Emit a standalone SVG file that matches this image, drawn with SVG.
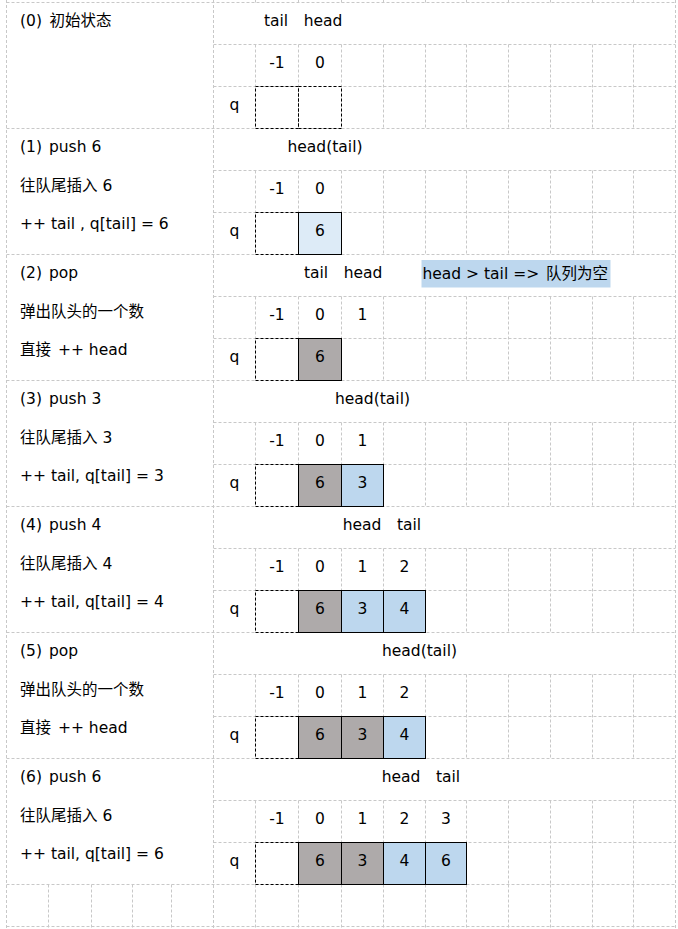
<svg xmlns="http://www.w3.org/2000/svg" width="678" height="929" viewBox="0 0 678 929">
<style>
.g{fill:none;stroke:#c8c8c8;stroke-width:1;stroke-dasharray:3,2}
.t{font-family:"DejaVu Sans","Noto Sans CJK SC",sans-serif;font-size:15.5px;fill:#000}
.m{text-anchor:middle}
.d{fill:none;stroke:#000;stroke-width:1;stroke-dasharray:3,2}
.gr{fill:#aeaaaa;stroke:#000;stroke-width:1}
.bl{fill:#bdd7ee;stroke:#000;stroke-width:1}
.lb{fill:#ddebf7;stroke:#000;stroke-width:1}
</style>
<rect width="678" height="929" fill="#fff"/>
<g id="grid">
<path class="g" d="M6.5 2.5H675.5M6.5 128.5H675.5M6.5 254.5H675.5M6.5 380.5H675.5M6.5 506.5H675.5M6.5 632.5H675.5M6.5 758.5H675.5M6.5 884.5H675.5M6.5 926.5H675.5
M213.5 44.5H675.5M213.5 86.5H675.5M213.5 170.5H675.5M213.5 212.5H675.5M213.5 296.5H675.5M213.5 338.5H675.5M213.5 422.5H675.5M213.5 464.5H675.5M213.5 548.5H675.5M213.5 590.5H675.5M213.5 674.5H675.5M213.5 716.5H675.5M213.5 800.5H675.5M213.5 842.5H675.5
M6.5 0V929M213.5 0V929M675.5 0V929
M48.5 884.5V929M91.5 884.5V929M132.5 884.5V929M171.5 884.5V929"/>
<path class="g" d="M255.5 0V2.5M298.5 0V2.5M341.5 0V2.5M383.5 0V2.5M425.5 0V2.5M466.5 0V2.5M508.5 0V2.5M550.5 0V2.5M592.5 0V2.5M633.5 0V2.5
M255.5 884.5V929M298.5 884.5V929M341.5 884.5V929M383.5 884.5V929M425.5 884.5V929M466.5 884.5V929M508.5 884.5V929M550.5 884.5V929M592.5 884.5V929M633.5 884.5V929"/>
<g id="vcols">
<path class="g" d="M255.5 44.5V128.5M298.5 44.5V128.5M341.5 44.5V128.5M383.5 44.5V128.5M425.5 44.5V128.5M466.5 44.5V128.5M508.5 44.5V128.5M550.5 44.5V128.5M592.5 44.5V128.5M633.5 44.5V128.5"/>
<path class="g" transform="translate(0,126)" d="M255.5 44.5V128.5M298.5 44.5V128.5M341.5 44.5V128.5M383.5 44.5V128.5M425.5 44.5V128.5M466.5 44.5V128.5M508.5 44.5V128.5M550.5 44.5V128.5M592.5 44.5V128.5M633.5 44.5V128.5"/>
<path class="g" transform="translate(0,252)" d="M255.5 44.5V128.5M298.5 44.5V128.5M341.5 44.5V128.5M383.5 44.5V128.5M425.5 44.5V128.5M466.5 44.5V128.5M508.5 44.5V128.5M550.5 44.5V128.5M592.5 44.5V128.5M633.5 44.5V128.5"/>
<path class="g" transform="translate(0,378)" d="M255.5 44.5V128.5M298.5 44.5V128.5M341.5 44.5V128.5M383.5 44.5V128.5M425.5 44.5V128.5M466.5 44.5V128.5M508.5 44.5V128.5M550.5 44.5V128.5M592.5 44.5V128.5M633.5 44.5V128.5"/>
<path class="g" transform="translate(0,504)" d="M255.5 44.5V128.5M298.5 44.5V128.5M341.5 44.5V128.5M383.5 44.5V128.5M425.5 44.5V128.5M466.5 44.5V128.5M508.5 44.5V128.5M550.5 44.5V128.5M592.5 44.5V128.5M633.5 44.5V128.5"/>
<path class="g" transform="translate(0,630)" d="M255.5 44.5V128.5M298.5 44.5V128.5M341.5 44.5V128.5M383.5 44.5V128.5M425.5 44.5V128.5M466.5 44.5V128.5M508.5 44.5V128.5M550.5 44.5V128.5M592.5 44.5V128.5M633.5 44.5V128.5"/>
<path class="g" transform="translate(0,756)" d="M255.5 44.5V128.5M298.5 44.5V128.5M341.5 44.5V128.5M383.5 44.5V128.5M425.5 44.5V128.5M466.5 44.5V128.5M508.5 44.5V128.5M550.5 44.5V128.5M592.5 44.5V128.5M633.5 44.5V128.5"/>
</g>
</g>

<g id="step0">
<text class="t" x="20" y="26">(0) <tspan dx="2.5">初始状态</tspan></text>
<text class="t m" x="276" y="26">tail</text>
<text class="t m" x="323" y="26">head</text>
<text class="t m" x="277" y="68">-1</text>
<text class="t m" x="320" y="68">0</text>
<text class="t m" x="234.5" y="110">q</text>
<rect class="d" x="255.5" y="86.5" width="43" height="42"/>
<rect class="d" x="298.5" y="86.5" width="43" height="42"/>
</g>

<g id="step1">
<text class="t" x="20" y="152">(1) <tspan dx="2">push 6</tspan></text>
<text class="t" x="20" y="191">往队尾插入 6</text>
<text class="t" x="20" y="228.5">++ tail , q[tail] = 6</text>
<text class="t m" x="325" y="152">head(tail)</text>
<text class="t m" x="277" y="194">-1</text>
<text class="t m" x="320" y="194">0</text>
<text class="t m" x="234.5" y="236">q</text>
<rect class="d" x="255.5" y="212.5" width="43" height="42"/>
<rect class="lb" x="298.5" y="212.5" width="43" height="42"/>
<text class="t m" x="320" y="236">6</text>
</g>

<g id="step2">
<text class="t" x="20" y="278">(2) <tspan dx="2">pop</tspan></text>
<text class="t" x="20" y="317">弹出队头的一个数</text>
<text class="t" x="20" y="354.5">直接 <tspan dx="2">++ head</tspan></text>
<text class="t m" x="316" y="278">tail</text>
<text class="t m" x="363" y="278">head</text>
<rect x="421.5" y="260" width="189" height="27.5" fill="#bdd7ee"/>
<text class="t" x="422.5" y="279">head &gt; tail =&gt; <tspan dx="2">队列为空</tspan></text>
<text class="t m" x="277" y="320">-1</text>
<text class="t m" x="320" y="320">0</text>
<text class="t m" x="362.5" y="320">1</text>
<text class="t m" x="234.5" y="362">q</text>
<rect class="d" x="255.5" y="338.5" width="43" height="42"/>
<rect class="gr" x="298.5" y="338.5" width="43" height="42"/>
<text class="t m" x="320" y="362">6</text>
</g>

<g id="step3">
<text class="t" x="20" y="404">(3) <tspan dx="2">push 3</tspan></text>
<text class="t" x="20" y="443">往队尾插入 3</text>
<text class="t" x="20" y="480.5">++ tail, q[tail] = 3</text>
<text class="t m" x="372.5" y="404">head(tail)</text>
<text class="t m" x="277" y="446">-1</text>
<text class="t m" x="320" y="446">0</text>
<text class="t m" x="362.5" y="446">1</text>
<text class="t m" x="234.5" y="488">q</text>
<rect class="d" x="255.5" y="464.5" width="43" height="42"/>
<rect class="gr" x="298.5" y="464.5" width="43" height="42"/>
<rect class="bl" x="341.5" y="464.5" width="42" height="42"/>
<text class="t m" x="320" y="488">6</text>
<text class="t m" x="362.5" y="488">3</text>
</g>

<g id="step4">
<text class="t" x="20" y="530">(4) <tspan dx="2">push 4</tspan></text>
<text class="t" x="20" y="569">往队尾插入 4</text>
<text class="t" x="20" y="606.5">++ tail, q[tail] = 4</text>
<text class="t m" x="362" y="530">head</text>
<text class="t m" x="409" y="530">tail</text>
<text class="t m" x="277" y="572">-1</text>
<text class="t m" x="320" y="572">0</text>
<text class="t m" x="362.5" y="572">1</text>
<text class="t m" x="404.5" y="572">2</text>
<text class="t m" x="234.5" y="614">q</text>
<rect class="d" x="255.5" y="590.5" width="43" height="42"/>
<rect class="gr" x="298.5" y="590.5" width="43" height="42"/>
<rect class="bl" x="341.5" y="590.5" width="42" height="42"/>
<rect class="bl" x="383.5" y="590.5" width="42" height="42"/>
<text class="t m" x="320" y="614">6</text>
<text class="t m" x="362.5" y="614">3</text>
<text class="t m" x="404.5" y="614">4</text>
</g>

<g id="step5">
<text class="t" x="20" y="656">(5) <tspan dx="2">pop</tspan></text>
<text class="t" x="20" y="695">弹出队头的一个数</text>
<text class="t" x="20" y="732.5">直接 <tspan dx="2">++ head</tspan></text>
<text class="t m" x="419.5" y="656">head(tail)</text>
<text class="t m" x="277" y="698">-1</text>
<text class="t m" x="320" y="698">0</text>
<text class="t m" x="362.5" y="698">1</text>
<text class="t m" x="404.5" y="698">2</text>
<text class="t m" x="234.5" y="740">q</text>
<rect class="d" x="255.5" y="716.5" width="43" height="42"/>
<rect class="gr" x="298.5" y="716.5" width="43" height="42"/>
<rect class="gr" x="341.5" y="716.5" width="42" height="42"/>
<rect class="bl" x="383.5" y="716.5" width="42" height="42"/>
<text class="t m" x="320" y="740">6</text>
<text class="t m" x="362.5" y="740">3</text>
<text class="t m" x="404.5" y="740">4</text>
</g>

<g id="step6">
<text class="t" x="20" y="782">(6) <tspan dx="2">push 6</tspan></text>
<text class="t" x="20" y="821">往队尾插入 6</text>
<text class="t" x="20" y="858.5">++ tail, q[tail] = 6</text>
<text class="t m" x="401" y="782">head</text>
<text class="t m" x="448" y="782">tail</text>
<text class="t m" x="277" y="824">-1</text>
<text class="t m" x="320" y="824">0</text>
<text class="t m" x="362.5" y="824">1</text>
<text class="t m" x="404.5" y="824">2</text>
<text class="t m" x="446" y="824">3</text>
<text class="t m" x="234.5" y="866">q</text>
<rect class="d" x="255.5" y="842.5" width="43" height="42"/>
<rect class="gr" x="298.5" y="842.5" width="43" height="42"/>
<rect class="gr" x="341.5" y="842.5" width="42" height="42"/>
<rect class="bl" x="383.5" y="842.5" width="42" height="42"/>
<rect class="bl" x="425.5" y="842.5" width="41" height="42"/>
<text class="t m" x="320" y="866">6</text>
<text class="t m" x="362.5" y="866">3</text>
<text class="t m" x="404.5" y="866">4</text>
<text class="t m" x="446" y="866">6</text>
</g>
</svg>
